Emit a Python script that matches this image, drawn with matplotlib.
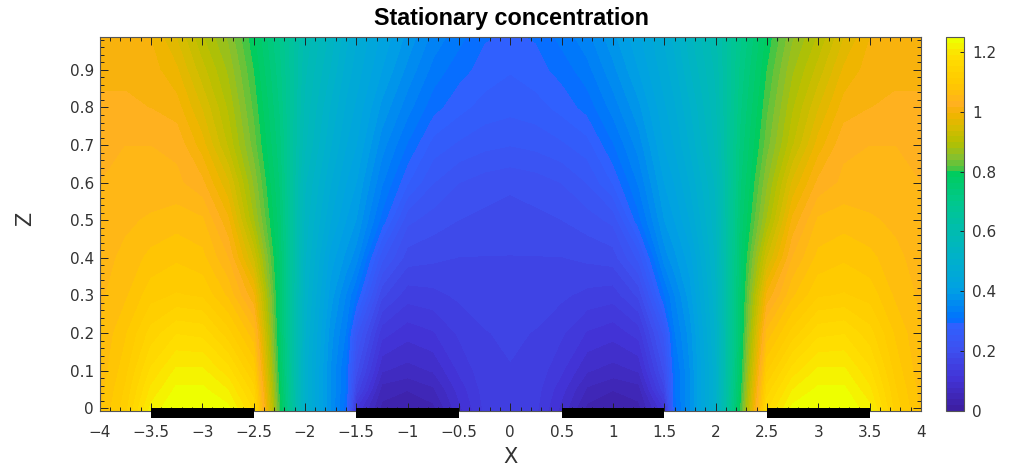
import numpy as np
import matplotlib
matplotlib.use("Agg")
import matplotlib.pyplot as plt
from matplotlib.cm import ScalarMappable
from matplotlib.colors import LinearSegmentedColormap, Normalize
from matplotlib.patches import Rectangle
from matplotlib.ticker import MultipleLocator

# ── data (right half, the field is mirrored about X=0) ───────────────────────
x_half = [0, .25, .5, .75, 1, 1.25, 1.5, 1.6, 1.75, 2, 2.25, 2.5, 2.75, 3, 3.25, 3.5, 3.75, 4]
z_rows = [-.0075, .05, .1, .2, .3, .4, .5, .6, .7, .8, .9, .99]
c_z00 = [.15, .14, .09, .03, .02, .03, .11, .30, .37, .50, .81, 1.17, 1.24, 1.25, 1.25, 1.22, 1.125, 1.07]
c_z05 = [.15, .145, .105, .055, .04, .05, .17, .31, .37, .50, .795, 1.14, 1.21, 1.235, 1.235, 1.195, 1.115, 1.065]
c_z10 = [.155, .15, .12, .08, .07, .08, .20, .31, .37, .50, .785, 1.11, 1.18, 1.215, 1.215, 1.175, 1.105, 1.06]
c_z20 = [.16, .155, .14, .115, .105, .125, .24, .33, .38, .51, .77, 1.06, 1.12, 1.165, 1.17, 1.14, 1.09, 1.055]
c_z30 = [.165, .165, .16, .15, .145, .18, .31, .35, .40, .52, .765, 1.0, 1.07, 1.11, 1.115, 1.105, 1.07, 1.05]
c_z40 = [.175, .175, .175, .18, .185, .24, .36, .385, .42, .53, .76, .935, 1.035, 1.08, 1.09, 1.08, 1.06, 1.045]
c_z50 = [.185, .19, .195, .205, .22, .305, .39, .41, .45, .54, .75, .88, 1.0, 1.058, 1.065, 1.058, 1.05, 1.04]
c_z60 = [.20, .205, .215, .235, .275, .335, .41, .43, .47, .55, .74, .855, .96, 1.02, 1.04, 1.04, 1.04, 1.035]
c_z70 = [.235, .24, .25, .265, .31, .36, .43, .45, .49, .57, .73, .83, .915, .985, 1.03, 1.035, 1.035, 1.035]
c_z80 = [.26, .265, .28, .30, .34, .385, .445, .465, .505, .58, .72, .815, .895, .955, 1.005, 1.015, 1.02, 1.02]
c_z90 = [.275, .285, .30, .325, .365, .41, .46, .48, .525, .59, .71, .80, .875, .925, .98, 1.005, 1.01, 1.01]
c_z99 = [.29, .295, .32, .345, .385, .425, .47, .495, .54, .60, .70, .785, .855, .90, .955, .995, 1.005, 1.01]

electrode_left = [-3.5, -1.5, 0.5, 2.5]
electrode_width = 1.0

x_ticks = [-4, -3.5, -3, -2.5, -2, -1.5, -1, -0.5, 0, 0.5, 1, 1.5, 2, 2.5, 3, 3.5, 4]
x_labels = ["\u22124", "\u22123.5", "\u22123", "\u22122.5", "\u22122", "\u22121.5", "\u22121", "\u22120.5",
            "0", "0.5", "1", "1.5", "2", "2.5", "3", "3.5", "4"]
z_ticks = [0, .1, .2, .3, .4, .5, .6, .7, .8, .9]
z_labels = ["0", "0.1", "0.2", "0.3", "0.4", "0.5", "0.6", "0.7", "0.8", "0.9"]
cb_ticks = [0, .2, .4, .6, .8, 1, 1.2]
cb_labels = ["0", "0.2", "0.4", "0.6", "0.8", "1", "1.2"]

# ── colour map ───────────────────────────────────────────────────────────────
VMAX = 1.25
cmap_vals = [0, .1, .2, .285, .30, .4, .5, .6, .7, .8, .815, .85, .9, .95, 1.0, 1.03, 1.1, 1.2, 1.25]
cmap_cols = ["#3d1fa3", "#4233d6", "#3d50f0", "#2f62ff", "#0070ff", "#00a0e4", "#00b0cc",
             "#00bcb0", "#00c88c", "#00cc5c", "#50c440", "#84c030", "#b4c000", "#d4bc00",
             "#f4b400", "#ffb020", "#ffc800", "#ffe000", "#eeff00"]
cmap = LinearSegmentedColormap.from_list(
    "conc", [(v / VMAX, c) for v, c in zip(cmap_vals, cmap_cols)], N=64)
norm = Normalize(0, VMAX)

# ── build the full field ─────────────────────────────────────────────────────
half = np.array([c_z00, c_z05, c_z10, c_z20, c_z30, c_z40, c_z50, c_z60, c_z70, c_z80, c_z90, c_z99])
x_half = np.array(x_half)
xs = np.concatenate([-x_half[:0:-1], x_half])
field = np.hstack([half[:, :0:-1], half])

W, H = 1011, 470
fig = plt.figure(figsize=(W / 100, H / 100), dpi=100)
ax = fig.add_axes([99.5 / W, (H - 411) / H, (921 - 99.5) / W, (411 - 37) / H])

levels = np.linspace(0, VMAX, 65)
ax.contourf(xs, z_rows, field, levels=levels, cmap=cmap, norm=norm, extend="both", antialiased=False)
ax.set_xlim(-4, 4)
ax.set_ylim(-0.0075, 0.9875)

for left in electrode_left:
    ax.add_patch(Rectangle((left, -0.025), electrode_width, 0.025, color="black",
                           clip_on=False, zorder=5, linewidth=0))

ax.set_xticks(x_ticks, x_labels)
ax.set_yticks(z_ticks, z_labels)
ax.xaxis.set_minor_locator(MultipleLocator(0.1))
ax.yaxis.set_minor_locator(MultipleLocator(0.02))
ax.tick_params(which="major", direction="in", top=True, right=True, length=6, width=0.7,
               color="#222222", labelsize=11, labelcolor="#333333", pad=4)
ax.tick_params(axis="x", which="major", pad=10)
ax.tick_params(which="minor", direction="in", top=True, right=True, length=3, width=0.7, color="#222222")
for s in ax.spines.values():
    s.set_color("#555555")
    s.set_linewidth(0.8)

fig.text(511 / W, (H - 19) / H, "Stationary concentration", ha="center", va="center",
         fontsize=16.8, fontweight="bold", color="black", family="Liberation Sans")
fig.text(511 / W, (H - 457) / H, "X", ha="center", va="center", fontsize=15, color="#333333")
fig.text(25 / W, (H - 219) / H, "Z", ha="center", va="center", rotation=90, fontsize=15, color="#333333")

# -- colorbar --
cax = fig.add_axes([946 / W, (H - 411) / H, 18 / W, (411 - 37) / H])
cb = fig.colorbar(ScalarMappable(norm=norm, cmap=cmap), cax=cax)
cb.set_ticks(cb_ticks, labels=cb_labels)
cb.ax.tick_params(direction="in", length=3, width=0.7, color="#222222", labelsize=11,
                  labelcolor="#333333", pad=6)
cb.outline.set_edgecolor("#555555")
cb.outline.set_linewidth(0.8)

plt.savefig("out.png", dpi=100)
plt.close()
